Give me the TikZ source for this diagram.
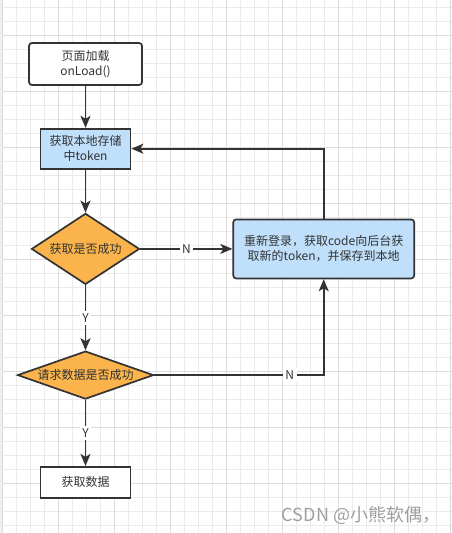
\documentclass[tikz,border=0pt]{standalone}
\usepackage{fontspec}
\newfontfamily\cjk{Noto Sans CJK SC}
\usetikzlibrary{positioning,shapes.geometric,arrows.meta}

\definecolor{linegray}{HTML}{333333}
\definecolor{boxblue}{RGB}{191,223,250}
\definecolor{diaorange}{RGB}{250,180,75}
\definecolor{gridminor}{HTML}{EBEBEB}
\definecolor{gridmajor}{HTML}{DCDCDC}

\begin{document}
\begin{tikzpicture}[
        x=1pt, y=-1pt,
        font=\cjk\fontsize{12}{15}\selectfont,
        text=linegray,
        box/.style={draw=linegray, line width=1.7pt, rectangle, align=center, inner sep=0pt},
        whitebox/.style={box, fill=white},
        bluebox/.style={box, fill=boxblue},
        decision/.style={draw=linegray, line width=1.7pt, diamond, fill=diaorange, inner sep=0pt},
        arrow/.style={-{Stealth[length=12pt, width=10pt, inset=3pt]}, line width=1.7pt, draw=linegray},
        lbl/.style={fill=white, inner sep=2.5pt}
    ]
        % background grid
        \useasboundingbox (0,0) rectangle (452,533);
        \fill[white] (0,0) rectangle (452,533);
        \fill[gray!12] (0,0) rectangle (2.3,533);
        \foreach \x in {2.3,16.3,...,452} \draw[gridminor, line width=0.9pt] (\x,0) -- (\x,533);
        \foreach \y in {7.3,21.3,...,533} \draw[gridminor, line width=0.9pt] (2.3,\y) -- (452,\y);
        \foreach \x in {2.3,58.3,...,452} \draw[gridmajor, line width=0.9pt] (\x,0) -- (\x,533);
        \foreach \y in {35.3,91.3,...,533} \draw[gridmajor, line width=0.9pt] (2.3,\y) -- (452,\y);

        \node[whitebox, rounded corners=3pt, minimum width=113pt, minimum height=42pt] (load) at (85.5,64) {页面加载\\onLoad()};
        \node[bluebox, minimum width=90pt, minimum height=40pt, below=42pt of load] (local) {获取本地存储\\中token};
        \node[decision, aspect=1.52, minimum width=108pt, minimum height=71pt, below=43pt of local] (gotok) {获取是否成功};
        \node[bluebox, rounded corners=3pt, minimum width=181pt, minimum height=59pt, right=92pt of gotok] (relogin) {重新登录，获取code向后台获\\取新的token，并保存到本地};
        \node[decision, aspect=2.83, minimum width=136pt, minimum height=48pt, below=65pt of gotok] (reqok) {请求数据是否成功};
        \node[whitebox, minimum width=90pt, minimum height=31pt, below=66pt of reqok] (data) {获取数据};

        \draw[arrow] (load) -- (local);
        \draw[arrow] (local) -- (gotok);
        \draw[arrow] (gotok) -- node[lbl]{N} (relogin);
        \draw[arrow] (relogin.north) |- (local.east);
        \draw[arrow] (gotok) -- node[lbl]{Y} (reqok);
        \draw[arrow] (reqok.east) -| node[lbl, pos=0.4]{N} (relogin.south);
        \draw[arrow] (reqok) -- node[lbl]{Y} (data);

        \node[text=gray!75, font=\cjk\fontsize{18}{20}\selectfont] (mark) at (361,515) {CSDN @小熊软偶，};
    \end{tikzpicture}
\end{document}
